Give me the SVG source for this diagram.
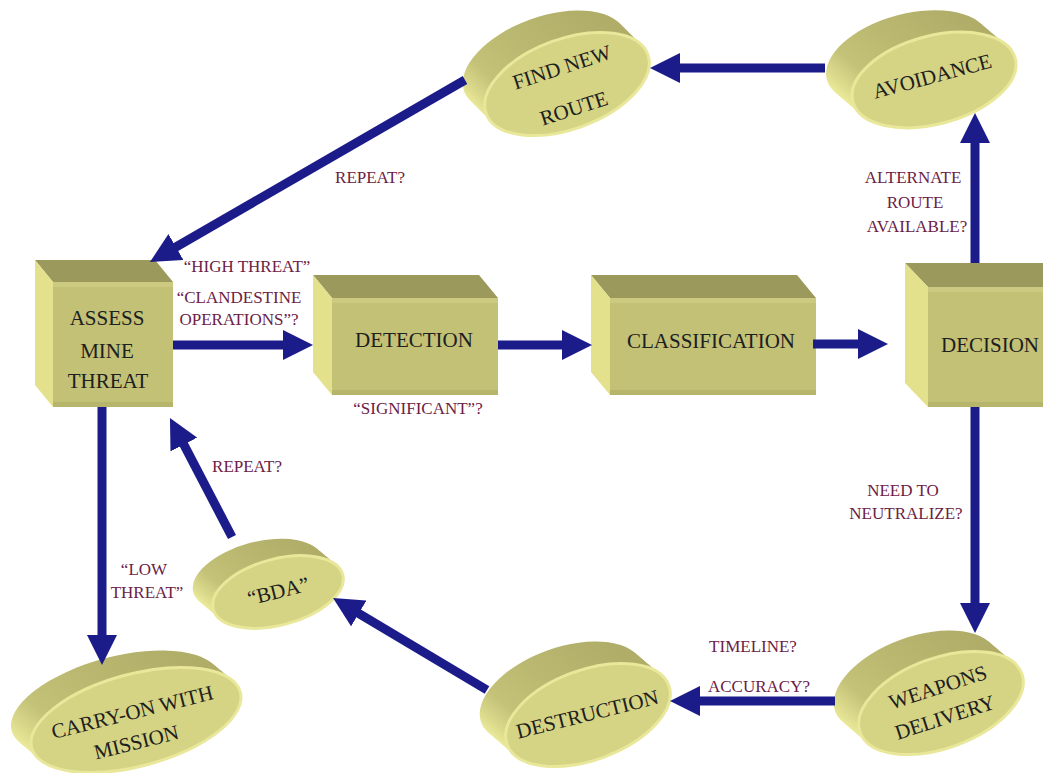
<svg xmlns="http://www.w3.org/2000/svg" width="1043" height="773" viewBox="0 0 1043 773">
<defs>
<style>
.front{fill:#c2c176}
.band{fill:#cbca80}
.bot{fill:#b7b56c}
.topf{fill:#9b995b}
.left{fill:#e3e18b}
.side{fill:url(#sideG)}
.face{fill:#d5d384;stroke:#e9e79a;stroke-width:3}
.nt{font-family:"Liberation Serif",serif;font-size:21px;fill:#1c2020;text-anchor:middle}
.lb{font-family:"Liberation Serif",serif;font-size:17px;fill:#6b2145;text-anchor:middle}
.arr{stroke:#1b1b8a;stroke-width:9;fill:none;marker-end:url(#ah)}
</style>
<linearGradient id="sideG" x1="0" y1="0.6" x2="1" y2="0">
<stop offset="0" stop-color="#eceb9a"/>
<stop offset="0.25" stop-color="#c4c278"/>
<stop offset="1" stop-color="#a9a763"/>
</linearGradient>
<marker id="ah" markerUnits="userSpaceOnUse" markerWidth="30" markerHeight="30" refX="10" refY="15" orient="auto" viewBox="0 0 30 30">
<path d="M0,0 L30,15 L0,30 Z" fill="#1b1b8a"/>
</marker>
<ellipse id="eBig" rx="86" ry="45" transform="rotate(-20)"/>
<ellipse id="eAvoid" rx="84" ry="44" transform="rotate(-15)"/>
<ellipse id="eBda" rx="67" ry="33" transform="rotate(-15)"/>
<ellipse id="eCarry" rx="108" ry="46" transform="rotate(-15)"/>
</defs>

<g id="assess">
<polygon class="topf" points="35,260 155,260 173,282 53,282"/>
<polygon class="left" points="35,260 53,282 53,407 35,385"/>
<rect class="front" x="53" y="282" width="120" height="125"/>
<rect class="band" x="53" y="282" width="120" height="5"/>
<rect class="bot" x="53" y="402" width="120" height="5"/>
<text class="nt" x="107" y="325">ASSESS</text>
<text class="nt" x="107" y="358">MINE</text>
<text class="nt" x="108" y="388">THREAT</text>
</g>

<g id="detection">
<polygon class="topf" points="313,275 479,275 498,298 332,298"/>
<polygon class="left" points="313,275 332,298 332,395 313,372"/>
<rect class="front" x="332" y="298" width="166" height="97"/>
<rect class="band" x="332" y="298" width="166" height="5"/>
<rect class="bot" x="332" y="390" width="166" height="5"/>
<text class="nt" x="414" y="347">DETECTION</text>
</g>

<g id="classification">
<polygon class="topf" points="591,275 797,275 816,298 610,298"/>
<polygon class="left" points="591,275 610,298 610,395 591,372"/>
<rect class="front" x="610" y="298" width="206" height="97"/>
<rect class="band" x="610" y="298" width="206" height="5"/>
<rect class="bot" x="610" y="390" width="206" height="5"/>
<text class="nt" x="711" y="348">CLASSIFICATION</text>
</g>

<g id="decision">
<polygon class="topf" points="905,263 1043,263 1043,287 928,287"/>
<polygon class="left" points="905,263 928,287 928,407 905,383"/>
<rect class="front" x="928" y="287" width="115" height="120"/>
<rect class="band" x="928" y="287" width="115" height="5"/>
<rect class="bot" x="928" y="402" width="115" height="5"/>
<text class="nt" x="990" y="352">DECISION</text>
</g>

<g id="find-new-route" transform="translate(567,84)">
<use href="#eBig" class="side" transform="translate(-22,-22)"/>
<use href="#eBig" class="side" transform="translate(-19,-19)"/>
<use href="#eBig" class="side" transform="translate(-16,-16)"/>
<use href="#eBig" class="side" transform="translate(-13,-13)"/>
<use href="#eBig" class="side" transform="translate(-10,-10)"/>
<use href="#eBig" class="side" transform="translate(-7,-7)"/>
<use href="#eBig" class="side" transform="translate(-4,-4)"/>
<use href="#eBig" class="side" transform="translate(-2,-2)"/>
<use href="#eBig" class="face"/>
</g>
<g id="find-new-route-text">
<text class="nt" x="564" y="74" transform="rotate(-18 564 74)">FIND NEW</text>
<text class="nt" x="576" y="115" transform="rotate(-18 576 115)">ROUTE</text>
</g>

<g id="avoidance" transform="translate(934,80)">
<use href="#eAvoid" class="side" transform="translate(-26,-22)"/>
<use href="#eAvoid" class="side" transform="translate(-22.5,-19)"/>
<use href="#eAvoid" class="side" transform="translate(-19,-16)"/>
<use href="#eAvoid" class="side" transform="translate(-15.5,-13)"/>
<use href="#eAvoid" class="side" transform="translate(-12,-10)"/>
<use href="#eAvoid" class="side" transform="translate(-8.5,-7)"/>
<use href="#eAvoid" class="side" transform="translate(-5,-4)"/>
<use href="#eAvoid" class="side" transform="translate(-2,-2)"/>
<use href="#eAvoid" class="face"/>
<text class="nt" x="0" y="3" font-size="20" transform="rotate(-15 0 3)">AVOIDANCE</text>
</g>

<g id="weapons-delivery" transform="translate(941,703)">
<use href="#eBig" class="side" transform="translate(-25,-21)"/>
<use href="#eBig" class="side" transform="translate(-21.5,-18)"/>
<use href="#eBig" class="side" transform="translate(-18,-15)"/>
<use href="#eBig" class="side" transform="translate(-14.5,-12)"/>
<use href="#eBig" class="side" transform="translate(-11,-9)"/>
<use href="#eBig" class="side" transform="translate(-7.5,-6)"/>
<use href="#eBig" class="side" transform="translate(-4,-3.5)"/>
<use href="#eBig" class="side" transform="translate(-2,-1.5)"/>
<use href="#eBig" class="face"/>
<text class="nt" x="-1" y="-9" transform="rotate(-18 -1 -9)">WEAPONS</text>
<text class="nt" x="6" y="21" transform="rotate(-18 6 21)">DELIVERY</text>
</g>

<g id="destruction" transform="translate(588,715)">
<use href="#eBig" class="side" transform="translate(-26,-22)"/>
<use href="#eBig" class="side" transform="translate(-22.5,-19)"/>
<use href="#eBig" class="side" transform="translate(-19,-16)"/>
<use href="#eBig" class="side" transform="translate(-15.5,-13)"/>
<use href="#eBig" class="side" transform="translate(-12,-10)"/>
<use href="#eBig" class="side" transform="translate(-8.5,-7)"/>
<use href="#eBig" class="side" transform="translate(-5,-4)"/>
<use href="#eBig" class="side" transform="translate(-2,-2)"/>
<use href="#eBig" class="face"/>
<text class="nt" x="1" y="6" transform="rotate(-14 1 6)">DESTRUCTION</text>
</g>

<g id="bda" transform="translate(278,592)">
<use href="#eBda" class="side" transform="translate(-20,-17)"/>
<use href="#eBda" class="side" transform="translate(-17,-14.5)"/>
<use href="#eBda" class="side" transform="translate(-14,-12)"/>
<use href="#eBda" class="side" transform="translate(-11,-9.5)"/>
<use href="#eBda" class="side" transform="translate(-8,-7)"/>
<use href="#eBda" class="side" transform="translate(-5,-4.5)"/>
<use href="#eBda" class="side" transform="translate(-2,-2)"/>
<use href="#eBda" class="face"/>
<text class="nt" x="2" y="6" transform="rotate(-14 2 6)">“BDA”</text>
</g>

<g id="carry-on" transform="translate(136,720)">
<use href="#eCarry" class="side" transform="translate(-20,-17)"/>
<use href="#eCarry" class="side" transform="translate(-17,-14.5)"/>
<use href="#eCarry" class="side" transform="translate(-14,-12)"/>
<use href="#eCarry" class="side" transform="translate(-11,-9.5)"/>
<use href="#eCarry" class="side" transform="translate(-8,-7)"/>
<use href="#eCarry" class="side" transform="translate(-5,-4.5)"/>
<use href="#eCarry" class="side" transform="translate(-2,-2)"/>
<use href="#eCarry" class="face"/>
<text class="nt" x="-2" y="-1" transform="rotate(-14 -2 -1)">CARRY-ON WITH</text>
<text class="nt" x="2" y="29" transform="rotate(-14 2 29)">MISSION</text>
</g>

<g id="connectors">
<path class="arr" d="M173,345 L293,345"/>
<path class="arr" d="M498,345 L572,345"/>
<path class="arr" d="M813,344 L868,344"/>
<path class="arr" d="M975,263 L975,133"/>
<path class="arr" d="M825,68 L670,68"/>
<path class="arr" d="M465,80 L167.3,252"/>
<path class="arr" d="M975,407 L975,613"/>
<path class="arr" d="M835,701 L690,701"/>
<path class="arr" d="M487,690 L350.2,608.3"/>
<path class="arr" d="M232,537 L179.2,435.7"/>
<path class="arr" d="M102,407 L102,645"/>
</g>

<g id="labels">
<text class="lb" x="370" y="183">REPEAT?</text>
<text class="lb" x="247" y="272">“HIGH THREAT”</text>
<text class="lb" x="239" y="303">“CLANDESTINE</text>
<text class="lb" x="239" y="325">OPERATIONS”?</text>
<text class="lb" x="418" y="414">“SIGNIFICANT”?</text>
<text class="lb" x="913" y="183">ALTERNATE</text>
<text class="lb" x="915" y="208">ROUTE</text>
<text class="lb" x="917" y="232">AVAILABLE?</text>
<text class="lb" x="903" y="496">NEED TO</text>
<text class="lb" x="906" y="519">NEUTRALIZE?</text>
<text class="lb" x="753" y="652">TIMELINE?</text>
<text class="lb" x="759" y="692">ACCURACY?</text>
<text class="lb" x="247" y="472">REPEAT?</text>
<text class="lb" x="144" y="575">“LOW</text>
<text class="lb" x="147" y="598">THREAT”</text>
</g>
</svg>
